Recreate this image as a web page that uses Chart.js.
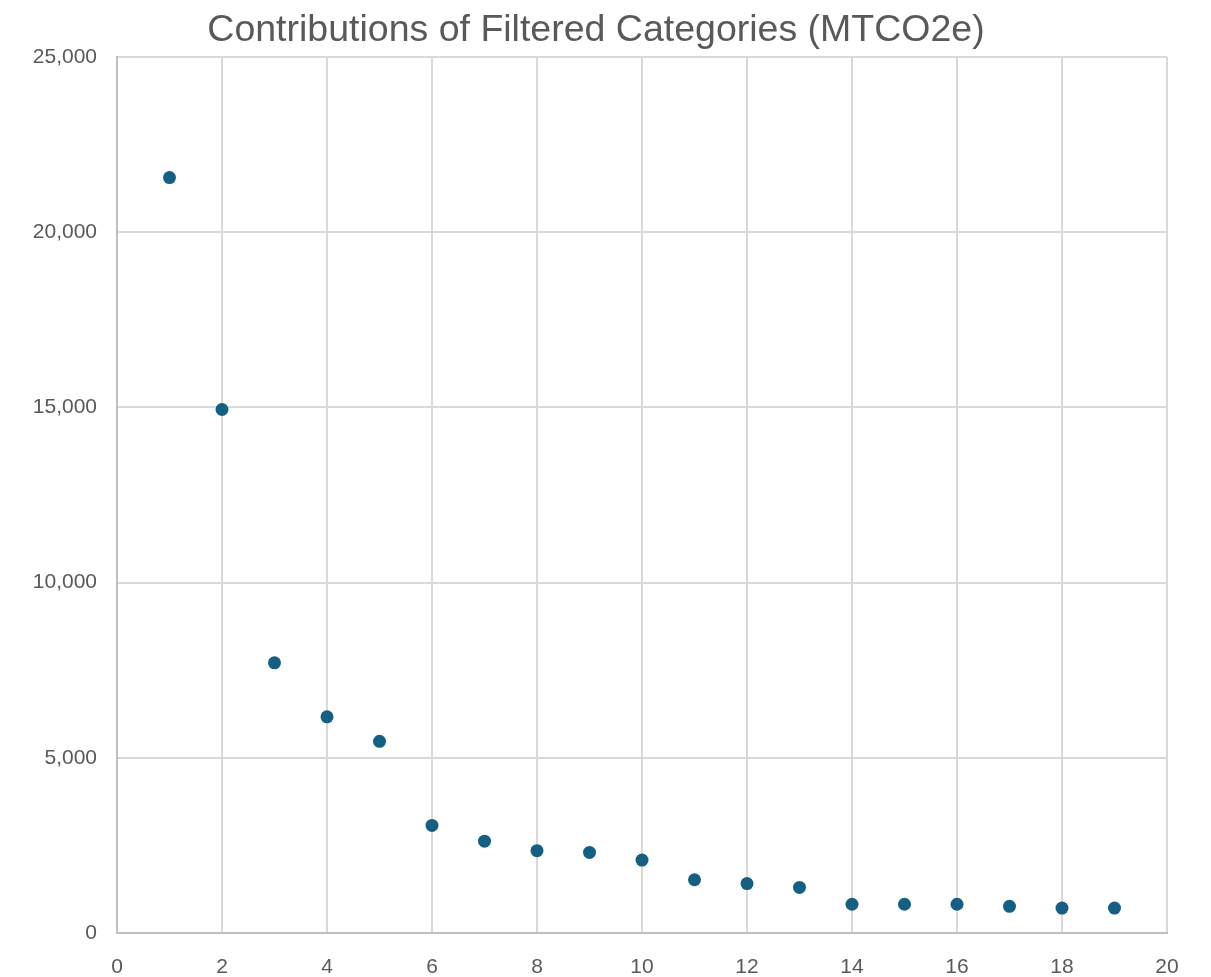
<!DOCTYPE html>
<html>
<head>
<meta charset="utf-8">
<script src="https://cdn.jsdelivr.net/npm/chart.js@4/dist/chart.umd.min.js"></script>
<style>
  html, body { margin: 0; padding: 0; background: #ffffff; }
  #wrap { width: 1211px; height: 977px; }
</style>
</head>
<body>
<div id="wrap"><canvas id="c" width="1211" height="977"></canvas></div>
<script>
// Category rank (x) and its contribution in MTCO2e (y)
const ranks = [1, 2, 3, 4, 5, 6, 7, 8, 9, 10, 11, 12, 13, 14, 15, 16, 17, 18, 19];
const contributions = [21560, 14940, 7710, 6170, 5470, 3070, 2620, 2350, 2300, 2080,
                       1520, 1410, 1300, 820, 820, 820, 760, 710, 710];
const xTicks = [0, 2, 4, 6, 8, 10, 12, 14, 16, 18, 20];
const yTicks = [0, 5000, 10000, 15000, 20000, 25000];
const chartTitle = 'Contributions of Filtered Categories (MTCO2e)';

const points = ranks.map((r, i) => ({ x: r, y: contributions[i] }));

const tickFont = { family: "'Liberation Sans', Arial, sans-serif", size: 21 };

new Chart(document.getElementById('c'), {
  type: 'scatter',
  data: {
    datasets: [{
      data: points,
      backgroundColor: '#156082',
      borderColor: '#156082',
      pointRadius: 6.5,
      pointHoverRadius: 6.5,
      borderWidth: 0
    }]
  },
  options: {
    responsive: false,
    animation: false,
    layout: { padding: { left: 25, right: 44, top: 8, bottom: 0 } },
    plugins: {
      legend: { display: false },
      tooltip: { enabled: false },
      title: {
        display: true,
        text: chartTitle,
        color: '#595959',
        font: { family: "'Liberation Sans', sans-serif", size: 37.5, weight: 'normal' },
        padding: { top: 0, bottom: 4 }
      }
    },
    scales: {
      x: {
        type: 'linear',
        min: 0,
        max: 20,
        afterBuildTicks: (axis) => { axis.ticks = xTicks.map(v => ({ value: v })); },
        afterFit: (axis) => { axis.height = 44; },
        ticks: { color: '#595959', font: tickFont, padding: 22, maxRotation: 0 },
        grid: { color: '#d9d9d9', lineWidth: 2, drawTicks: false },
        border: { color: '#bfbfbf', width: 2 }
      },
      y: {
        type: 'linear',
        min: 0,
        max: 25000,
        afterBuildTicks: (axis) => { axis.ticks = yTicks.map(v => ({ value: v })); },
        afterFit: (axis) => { axis.width = 92; },
        ticks: {
          color: '#595959',
          font: tickFont,
          padding: 20,
          callback: (v) => v.toLocaleString('en-US')
        },
        grid: { color: '#d9d9d9', lineWidth: 2, drawTicks: false },
        border: { color: '#bfbfbf', width: 2 }
      }
    }
  }
});
</script>
</body>
</html>
